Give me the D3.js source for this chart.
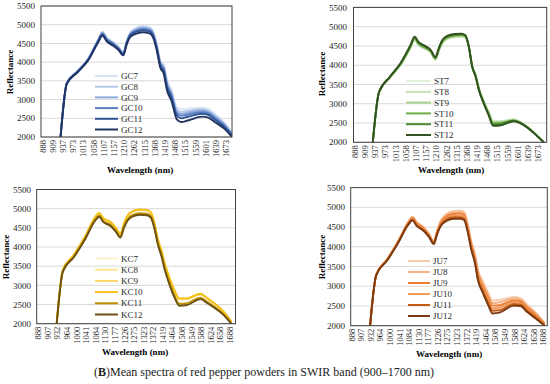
<!DOCTYPE html>
<html><head><meta charset="utf-8">
<script src="https://cdn.jsdelivr.net/npm/d3@7"></script>
<style>body{margin:0;background:#fff}svg{display:block}</style>
</head><body>
<svg id="c" width="550" height="384"></svg>
<script>
// ---------- DATA ----------
const wavelengths = [930,950,990,1035,1080,1100,1120,1155,1180,1205,1222,1240,1265,1305,1340,1360,1378,1395,1412,1428,1450,1475,1495,1525,1585,1610,1635,1665,1692];
const ticksA = [888,909,937,973,1013,1058,1107,1157,1210,1262,1315,1368,1419,1468,1515,1559,1601,1639,1673];
const ticksB = [888,907,932,964,1000,1041,1084,1130,1177,1226,1275,1323,1372,1419,1464,1508,1549,1588,1624,1658,1688];
const yTicks = [2000,2500,3000,3500,4000,4500,5000,5500];

const GC7  = [2000,3450,3770,4110,4620,4820,4670,4530,4415,4270,4570,4800,4910,4970,4940,4810,4480,4050,3940,3530,3260,2790,2740,2760,2785,2750,2615,2400,2120];
const GC8  = [2000,3440,3760,4100,4600,4800,4650,4510,4400,4250,4550,4770,4880,4940,4910,4780,4440,4010,3890,3470,3200,2730,2670,2700,2740,2700,2570,2370,2100];
const GC9  = [2000,3440,3760,4090,4590,4780,4630,4500,4380,4240,4540,4760,4850,4910,4880,4750,4420,3980,3860,3430,3160,2680,2620,2650,2700,2670,2540,2340,2080];
const GC10 = [2000,3435,3750,4085,4580,4765,4615,4480,4368,4225,4520,4735,4830,4885,4855,4725,4390,3950,3820,3390,3110,2630,2570,2600,2665,2635,2505,2315,2060];
const GC11 = [2000,3430,3740,4080,4560,4740,4590,4460,4350,4210,4500,4710,4800,4850,4820,4690,4350,3910,3770,3330,3050,2570,2500,2540,2620,2590,2460,2280,2040];
const GC12 = [2000,3420,3730,4060,4540,4710,4560,4430,4320,4180,4470,4670,4750,4800,4770,4640,4300,3850,3700,3250,2960,2470,2400,2440,2545,2520,2395,2230,2000];

const ST7  = [2000,3300,3670,4000,4440,4640,4510,4410,4330,4140,4360,4560,4670,4730,4740,4720,4460,3980,3750,3410,3090,2790,2560,2555,2595,2530,2410,2210,2000];
const ST8  = [2000,3300,3670,4010,4450,4660,4520,4420,4340,4150,4370,4570,4680,4740,4750,4730,4460,3980,3740,3400,3080,2780,2540,2540,2590,2530,2410,2210,2000];
const ST9  = [2000,3300,3680,4020,4460,4670,4540,4430,4350,4160,4380,4590,4700,4750,4760,4740,4470,3970,3740,3390,3070,2760,2520,2520,2580,2520,2400,2210,2000];
const ST10 = [2000,3300,3685,4030,4480,4690,4555,4450,4365,4175,4400,4605,4715,4770,4780,4750,4470,3965,3725,3380,3055,2745,2495,2495,2570,2515,2400,2205,2000];
const ST11 = [2000,3300,3690,4050,4500,4720,4580,4470,4380,4190,4420,4630,4740,4790,4800,4770,4480,3960,3710,3370,3040,2720,2460,2470,2560,2510,2400,2200,2000];
const ST12 = [2000,3300,3700,4060,4520,4740,4600,4490,4400,4210,4440,4650,4760,4810,4820,4780,4480,3950,3700,3350,3020,2700,2430,2435,2545,2500,2390,2200,2000];

const KC7  = [2000,3390,3790,4250,4760,4880,4740,4640,4500,4330,4580,4790,4910,4960,4950,4880,4590,4170,3890,3550,3170,2820,2630,2630,2760,2650,2520,2330,2050];
const KC8  = [2000,3400,3790,4250,4760,4880,4740,4640,4500,4340,4590,4800,4920,4970,4960,4890,4600,4180,3900,3550,3180,2830,2640,2640,2770,2660,2530,2330,2050];
const KC9  = [2000,3400,3800,4260,4770,4890,4750,4650,4510,4340,4600,4800,4920,4970,4960,4890,4600,4180,3900,3560,3190,2840,2650,2650,2770,2660,2530,2340,2060];
const KC10 = [2000,3400,3800,4260,4770,4890,4750,4650,4510,4345,4600,4810,4930,4980,4970,4900,4610,4190,3910,3570,3200,2850,2660,2660,2780,2670,2540,2340,2060];
const KC11 = [2000,3370,3760,4210,4700,4820,4680,4580,4440,4270,4520,4710,4830,4880,4870,4800,4510,4090,3800,3440,3070,2710,2520,2530,2680,2570,2450,2270,2020];
const KC12 = [2000,3360,3740,4190,4680,4790,4650,4550,4410,4245,4490,4680,4790,4840,4830,4760,4470,4050,3760,3400,3020,2660,2470,2480,2640,2540,2420,2250,2000];

const JU7  = [2000,3300,3700,4150,4640,4770,4630,4500,4340,4150,4420,4660,4820,4910,4920,4880,4560,4140,3840,3400,3130,2840,2640,2650,2730,2700,2535,2325,2080];
const JU8  = [2000,3300,3690,4140,4620,4750,4610,4480,4320,4130,4400,4630,4780,4870,4880,4840,4520,4100,3790,3350,3070,2780,2570,2590,2690,2660,2500,2300,2060];
const JU9  = [2000,3290,3680,4130,4610,4730,4590,4460,4300,4120,4380,4600,4750,4830,4840,4800,4480,4050,3740,3290,3010,2710,2510,2520,2640,2620,2460,2270,2050];
const JU10 = [2000,3290,3680,4120,4590,4710,4570,4440,4290,4100,4360,4580,4710,4790,4790,4750,4430,4010,3700,3240,2950,2650,2440,2460,2600,2580,2420,2240,2030];
const JU11 = [2000,3280,3670,4110,4580,4690,4550,4420,4270,4090,4340,4550,4680,4750,4750,4710,4390,3960,3650,3180,2890,2580,2380,2390,2550,2540,2380,2210,2020];
const JU12 = [2000,3280,3660,4100,4560,4670,4530,4400,4250,4070,4320,4520,4640,4710,4710,4670,4350,3920,3600,3130,2830,2520,2310,2330,2510,2500,2345,2175,2000];

const caption = "Mean spectra of red pepper powders in SWIR band (900\u20131700 nm)";

// ---------- LAYOUT / STYLE ----------
const panels = [
  {names:["GC7","GC8","GC9","GC10","GC11","GC12"], values:[GC7,GC8,GC9,GC10,GC11,GC12],
   colors:["#dae4f4","#b4c7e7","#8eaadb","#5a7fc0","#2f5597","#1f3462"], ticks:ticksA,
   x0:41, x1:232, yT:6, yB:137, t0:42.7, step:10.2,
   lx0:95, lx1:118, ltx:121, ly0:76, ldy:10.7,
   ylabX:10, ylabY:72, xlabX:140, xlabY:173, yTickX:35},
  {names:["ST7","ST8","ST9","ST10","ST11","ST12"], values:[ST7,ST8,ST9,ST10,ST11,ST12],
   colors:["#e2efda","#c5e0b4","#a9d18e","#70ad47","#4e8a30","#2f5220"], ticks:ticksA,
   x0:353.5, x1:546.7, yT:7.4, yB:142.3, t0:355, step:10.17,
   lx0:406, lx1:431, ltx:434, ly0:81, ldy:10.8,
   ylabX:322, ylabY:74, xlabX:451, xlabY:173, yTickX:347},
  {names:["KC7","KC8","KC9","KC10","KC11","KC12"], values:[KC7,KC8,KC9,KC10,KC11,KC12],
   colors:["#fff2cc","#ffe699","#ffd966","#f5bf1a","#bf9000","#6b5210"], ticks:ticksB,
   x0:36.7, x1:235.5, yT:189.5, yB:323.7, t0:38.3, step:9.585,
   lx0:95, lx1:118, ltx:121, ly0:258.5, ldy:11.2,
   ylabX:6, ylabY:257, xlabX:135, xlabY:355, yTickX:31},
  {names:["JU7","JU8","JU9","JU10","JU11","JU12"], values:[JU7,JU8,JU9,JU10,JU11,JU12],
   colors:["#f8cbad","#f4b183","#ed7d31","#f09a5c","#c55a11","#7a3a12"], ticks:ticksB,
   x0:350.7, x1:547.3, yT:187.6, yB:325.7, t0:351.7, step:9.58,
   lx0:408, lx1:430, ltx:433, ly0:261, ldy:11,
   ylabX:321.5, ylabY:257, xlabX:449, xlabY:356.5, yTickX:345}
];

const svg = d3.select("#c");
const FONT = "'Liberation Serif','Times New Roman',serif";

panels.forEach((p, pi) => {
  const x = d3.scaleLinear().domain(p.ticks).range(p.ticks.map((_, i) => p.t0 + i * p.step));
  const y = d3.scaleLinear().domain([2000, 5500]).range([p.yB, p.yT]);
  const g = svg.append("g");

  g.selectAll("line.grid").data(yTicks).join("line")
    .attr("x1", p.x0).attr("x2", p.x1)
    .attr("y1", d => y(d)).attr("y2", d => y(d))
    .attr("stroke", "#d9d9d9").attr("stroke-width", 1);

  g.selectAll("text.yt").data(yTicks).join("text")
    .attr("x", p.yTickX).attr("y", d => y(d)).attr("dy", "0.35em")
    .attr("text-anchor", "end").attr("font-family", FONT).attr("font-size", 9)
    .attr("fill", "#262626").text(d => d);

  g.selectAll("text.xt").data(p.ticks).join("text")
    .attr("transform", d => `translate(${x(d)},${p.yB + 3}) rotate(-90)`)
    .attr("dy", "0.35em").attr("text-anchor", "end")
    .attr("font-family", FONT).attr("font-size", 8.5).attr("fill", "#262626")
    .text(d => d);

  const cid = "clip" + pi;
  svg.append("clipPath").attr("id", cid).append("rect")
    .attr("x", p.x0).attr("y", p.yT).attr("width", p.x1 - p.x0).attr("height", p.yB - p.yT);

  const line = d3.line().x(d => x(d[0])).y(d => y(d[1])).curve(d3.curveMonotoneX);
  const lg = g.append("g").attr("clip-path", `url(#${cid})`);
  p.values.forEach((vals, si) => {
    lg.append("path")
      .attr("d", line(wavelengths.map((w, i) => [w, vals[i]])))
      .attr("fill", "none").attr("stroke", p.colors[si]).attr("stroke-width", 1.9)
      .attr("stroke-linejoin", "round");
  });

  g.append("rect").attr("x", p.x0).attr("y", p.yT)
    .attr("width", p.x1 - p.x0).attr("height", p.yB - p.yT)
    .attr("fill", "none").attr("stroke", "#404040").attr("stroke-width", 1);

  p.names.forEach((n, si) => {
    const ly = p.ly0 + si * p.ldy;
    g.append("line").attr("x1", p.lx0).attr("x2", p.lx1).attr("y1", ly).attr("y2", ly)
      .attr("stroke", p.colors[si]).attr("stroke-width", 2);
    g.append("text").attr("x", p.ltx).attr("y", ly).attr("dy", "0.35em")
      .attr("font-family", FONT).attr("font-size", 9).attr("fill", "#262626").text(n);
  });

  g.append("text").attr("transform", `translate(${p.ylabX},${p.ylabY}) rotate(-90)`)
    .attr("text-anchor", "middle").attr("dy", "0.35em")
    .attr("font-family", FONT).attr("font-size", 9).attr("font-weight", "bold")
    .attr("fill", "#000").text("Reflectance");
  g.append("text").attr("x", p.xlabX).attr("y", p.xlabY)
    .attr("text-anchor", "middle")
    .attr("font-family", FONT).attr("font-size", 9).attr("font-weight", "bold")
    .attr("fill", "#000").text("Wavelength (nm)");
});

const cap = svg.append("text").attr("x", 264).attr("y", 376).attr("text-anchor", "middle")
  .attr("font-family", FONT).attr("font-size", 12).attr("fill", "#222");
cap.append("tspan").text("(");
cap.append("tspan").attr("font-weight", "bold").text("B");
cap.append("tspan").text(")" + caption);
</script>
</body></html>
